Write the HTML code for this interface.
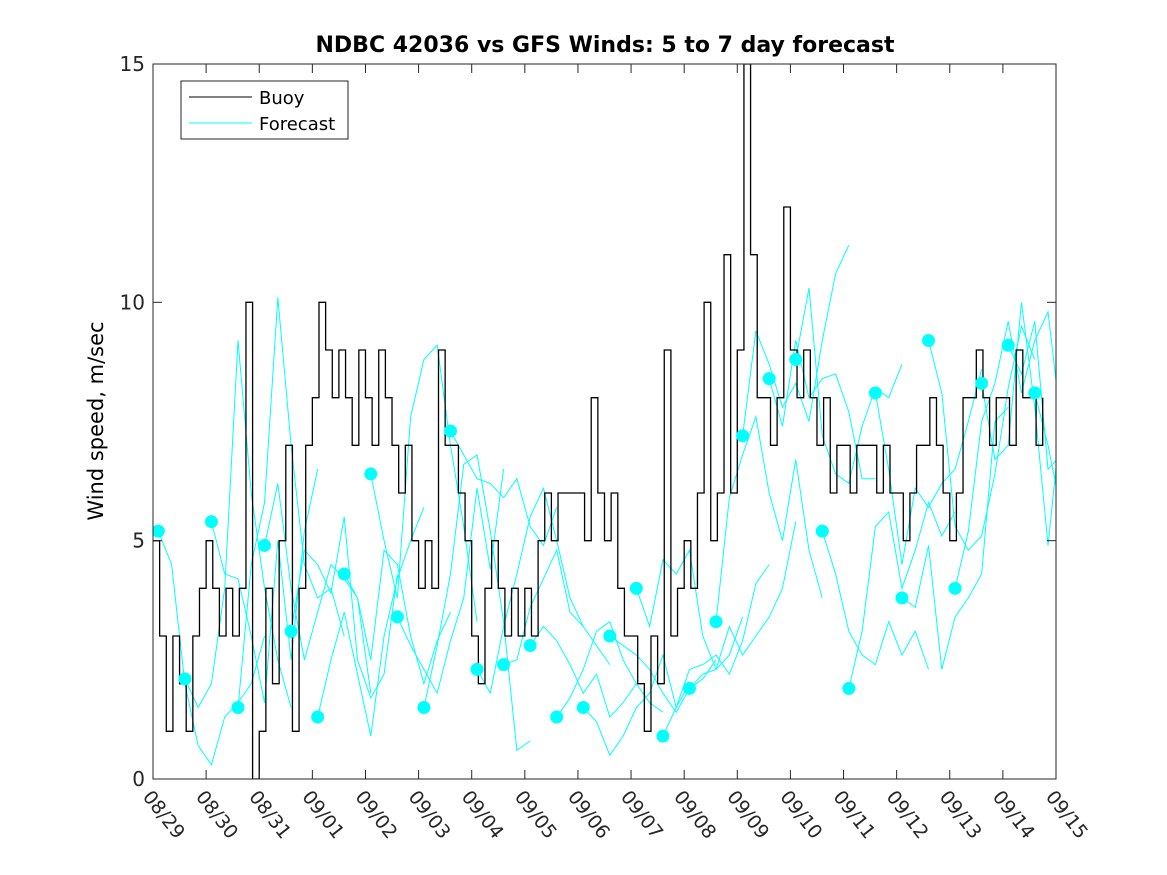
<!DOCTYPE html>
<html><head><meta charset="utf-8"><style>
body{margin:0;background:#fff;}
svg{display:block;font-family:"DejaVu Sans","Liberation Sans",sans-serif;}
</style></head><body>
<svg id="chart" width="1167" height="875" xmlns="http://www.w3.org/2000/svg">
<rect width="1167" height="875" fill="#fff"/>
<defs><clipPath id="pc"><rect x="153" y="64" width="903" height="715"/></clipPath></defs>
<text x="605" y="52" text-anchor="middle" font-size="22" font-weight="bold">NDBC 42036 vs GFS Winds: 5 to 7 day forecast</text>
<text transform="translate(103,421) rotate(-90)" text-anchor="middle" font-size="21">Wind speed, m/sec</text>
<g id="plot" clip-path="url(#pc)"></g>
<g id="axes"></g>
<g>
<rect x="181" y="81" width="167" height="58" fill="#fff" stroke="#262626" stroke-width="1"/>
<line x1="189" y1="97" x2="252" y2="97" stroke="#000"/>
<text x="259" y="104" font-size="18">Buoy</text>
<line x1="189" y1="123" x2="252" y2="123" stroke="#00ffff"/>
<text x="259" y="130" font-size="18">Forecast</text>
</g>
</svg>
<script>
const dateLabels=["08/29","08/30","08/31","09/01","09/02","09/03","09/04","09/05","09/06","09/07","09/08","09/09","09/10","09/11","09/12","09/13","09/14","09/15"];
const yTicks=[0,5,10,15];
// buoy wind speed, 3-hourly from 08/29 00Z
const buoy=[5,3,1,3,2,1,3,4, 5,4,3,4,3,4,10,0, 1,4,2,5,7,1,4,7, 8,10,9,8,9,8,7,9, 8,7,9,8,7,6,7,5, 4,5,4,9,7,7,6,5, 3,2,4,5,4,3,4,3, 4,3,5,6,5,6,6,6, 6,5,8,6,5,6,4,3, 3,2,1,3,2,9,3,4, 5,4,6,10,5,6,11,6, 9,15,11,8,8,7,8,12, 9,8,9,8,7,8,6,7, 7,6,7,7,7,6,7,6, 6,5,6,7,7,8,7,6, 5,6,8,8,9,8,7,8, 8,7,9,8,8,7,8];
// forecast run start days (days after 08/29 00Z)
const fcStart=[0.1,0.6,1.1,1.6,2.1,2.6,3.1,3.6,4.1,4.6,5.1,5.6,6.1,6.6,7.1,7.6,8.1,8.6,9.1,9.6,10.1,10.6,11.1,11.6,12.1,12.6,13.1,13.6,14.1,14.6,15.1,15.6,16.1,16.6];
// forecast values, 6-hourly per run (first value = marker)
const fcVals=[
[5.2,4.5,2,0.7,0.3,1.3,1.6,2,3],[2.1,1.5,2,4,9.2,6,4,2.5,1.5],[5.4,4.3,4.2,3,1.6,5,2.5,5.2,6.5],[1.5,4.5,5.8,10.1,7,4.5,3.8,4,3],
[4.9,6.2,4,2.5,3.5,4.5,4.2,3.8,1.8],[3.1,4.8,4.5,3.9,5.5,2.5,1.7,2.2,4.3],[1.3,2.5,3.5,2.2,0.9,3,4.2,5,5.7],[4.3,3.8,2.5,4.8,4.5,3,2,2.9,3.5],
[6.4,5,3.8,7.6,8.8,9.1,7,5.3,3.3],[3.4,2.8,2.3,1.8,2.9,3.8,6.1,4.4,6.5],[1.5,2.8,4.3,6.6,6.8,5.2,3.3,0.6,0.8],[7.3,6.8,6.3,6.2,5.9,6.3,5.3,4.9,5.7],
[2.3,1.8,3.2,4.3,5.5,6.1,5,3.8,3.2],[2.4,2.5,3.6,4.2,4.8,3.5,3.2,2.8,2.4],[2.8,3.2,2.9,2.4,1.8,2.2,1.3,1.6,2],[1.3,1.7,2.3,3.1,3.3,2.5,2,1.6,1.4],
[1.5,1.2,0.5,0.9,1.5,1.8,2.6,1.5,2],[3.0,2.8,2.6,2.3,1.8,1.4,1.9,2.1,2.5],[4.0,3.2,4.6,4.3,4.8,3,2.3,2.6,3.4],[0.9,1.5,2.3,2.4,2.6,2.2,2.9,4.1,4.5],
[1.9,2.2,2.3,3.2,2.6,3,3.4,4,5.4],[3.3,5.9,6.8,7.6,6,5,6.7,4.8,3.8],[7.2,9.4,8.7,7.8,8.3,7.5,9.2,10.6,11.2],[8.4,7.4,9.2,8,8.4,8.5,7.7,6.3,6.3],
[8.8,10.3,7.2,6.4,6.2,7.4,8.2,8,8.7],[5.2,4.3,3.1,2.6,2.4,3.3,2.6,3.1,2.3],[1.9,3.1,5.3,5.6,4,4.8,5.8,5.1,5.6],[8.1,6.5,4.5,6.1,5.7,6.2,6.5,7.5,8.6],
[3.8,3.6,4.9,2.3,3.4,3.8,4.3,7.5,7.8],[9.2,8.1,5.3,4.8,5.1,6.4,8.2,9.5,8.8],[4.0,5.2,7.5,8.3,9.6,8.1,9.2,9.8,7.4],[8.3,6.7,7,10,7.8,4.9,7.6,10.2,9.6],
[9.1,8.5,9.6,6.5,6.8,7.4,4.2,5.7,6.6],[8.1,7,5.6,4.6,5.2,5,4.4,4.8,5]];
const X0=153,X1=1056,Y0=779,Y1=64;
const xs=d=>X0+(X1-X0)*d/17;
const ys=v=>Y0-(Y0-Y1)*v/15;
const NS="http://www.w3.org/2000/svg";
const plot=document.getElementById('plot'),axes=document.getElementById('axes');
function mk(t,a,p){const e=document.createElementNS(NS,t);for(const k in a)e.setAttribute(k,a[k]);p.appendChild(e);return e;}
fcVals.forEach((vals,i)=>{
 const pts=vals.map((v,j)=>xs(fcStart[i]+j*0.25)+','+ys(v)).join(' ');
 const l=mk('polyline',{points:pts,fill:'none',stroke:'#00ffff','stroke-width':1},plot);
 
 
});
let bp=[];buoy.forEach((v,i)=>{const x=xs(i/8);if(i>0)bp.push(x+','+ys(buoy[i-1]));bp.push(x+','+ys(v));});
const bl=mk('polyline',{points:bp.join(' '),fill:'none',stroke:'#000','stroke-width':1.3},plot);


fcVals.forEach((vals,i)=>{
 const c=mk('circle',{cx:xs(fcStart[i]),cy:ys(vals[0]),r:6.5,fill:'#00ffff'},plot);
 
 
});
const box=mk('rect',{x:X0,y:Y1,width:X1-X0,height:Y0-Y1,fill:'none',stroke:'#262626','stroke-width':1},axes);


dateLabels.forEach((s,i)=>{
 const x=xs(i);
 mk('line',{x1:x,y1:Y0,x2:x,y2:Y0-9,stroke:'#262626'},axes);
 mk('line',{x1:x,y1:Y1,x2:x,y2:Y1+9,stroke:'#262626'},axes);
 const t=mk('text',{transform:`translate(${x-11},${797}) rotate(52)`,'font-size':19,fill:'#262626'},axes);
 t.textContent=s;
 
 
});
yTicks.forEach(v=>{
 const y=ys(v);
 mk('line',{x1:X0,y1:y,x2:X0+9,y2:y,stroke:'#262626'},axes);
 mk('line',{x1:X1,y1:y,x2:X1-9,y2:y,stroke:'#262626'},axes);
 const t=mk('text',{x:X0-8,y:y+7,'text-anchor':'end','font-size':20,fill:'#262626'},axes);
 t.textContent=v;
 
 
});
</script>
</body></html>
